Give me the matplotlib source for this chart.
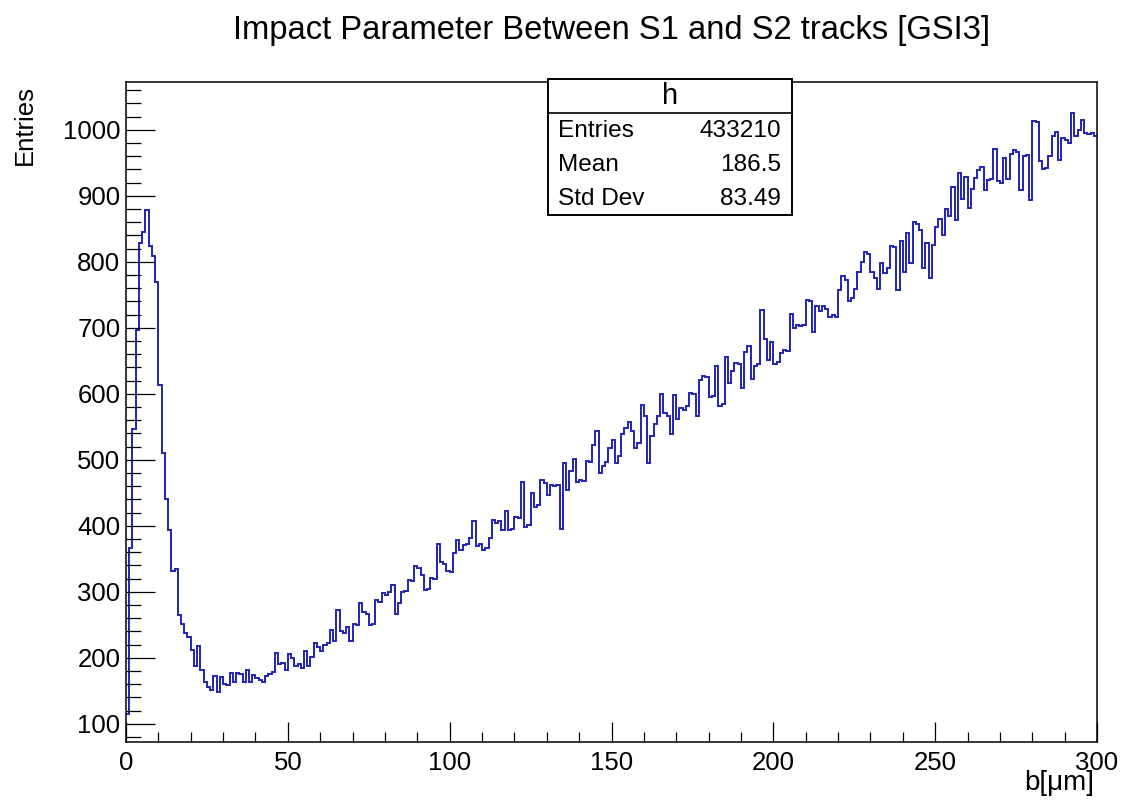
import numpy as np
import matplotlib
matplotlib.use("Agg")
import matplotlib.pyplot as plt
from matplotlib.patches import Rectangle
from matplotlib.lines import Line2D
from matplotlib.ticker import MultipleLocator

plt.rcParams['font.family'] = ['Liberation Sans', 'DejaVu Sans']

# Histogram: 300 bins of 1 um between 0 and 300 um
x_low, x_high, n_bins = 0.0, 300.0, 300

counts_000_049 = [115, 367, 547, 697, 829, 845, 879, 824, 809, 769,
                  614, 511, 440, 394, 331, 335, 265, 252, 238, 232,
                  212, 188, 218, 182, 163, 156, 152, 172, 149, 171,
                  160, 159, 177, 164, 177, 176, 164, 182, 163, 174,
                  170, 167, 164, 172, 175, 178, 208, 190, 192, 182]
counts_050_099 = [206, 200, 187, 190, 185, 211, 187, 202, 222, 217,
                  210, 220, 222, 242, 225, 272, 240, 238, 247, 225,
                  252, 250, 283, 270, 266, 250, 252, 288, 285, 298,
                  296, 300, 310, 266, 283, 300, 302, 318, 316, 339,
                  336, 326, 303, 305, 321, 319, 373, 345, 342, 331]
counts_100_149 = [330, 359, 379, 364, 371, 373, 381, 408, 370, 372,
                  364, 366, 381, 409, 405, 408, 394, 423, 394, 396,
                  414, 412, 466, 399, 402, 450, 429, 431, 469, 465,
                  447, 462, 460, 462, 396, 496, 455, 483, 502, 467,
                  470, 468, 499, 497, 523, 544, 480, 490, 497, 518]
counts_150_199 = [530, 496, 506, 539, 548, 557, 544, 518, 526, 583,
                  567, 496, 536, 555, 567, 600, 571, 566, 539, 598,
                  562, 578, 576, 582, 601, 600, 567, 621, 627, 625,
                  595, 597, 642, 582, 585, 656, 617, 635, 647, 645,
                  609, 664, 672, 622, 642, 645, 727, 683, 652, 678]
counts_200_249 = [646, 648, 662, 667, 665, 721, 700, 705, 703, 705,
                  742, 740, 693, 733, 725, 733, 728, 717, 719, 716,
                  758, 778, 773, 741, 745, 759, 785, 800, 815, 812,
                  785, 775, 759, 798, 783, 790, 824, 822, 758, 832,
                  784, 843, 798, 861, 858, 848, 790, 829, 775, 826]
counts_250_299 = [853, 865, 841, 880, 869, 914, 863, 935, 896, 928,
                  881, 911, 927, 939, 944, 909, 924, 926, 971, 922,
                  920, 957, 925, 964, 969, 967, 909, 960, 962, 894,
                  1013, 1012, 953, 940, 942, 960, 990, 997, 955, 987,
                  985, 980, 1026, 990, 1000, 1015, 995, 993, 996, 990]

stat_labels = ["Entries", "Mean", "Std Dev"]
stat_values = ["433210", "186.5", "83.49"]
hist_name = "h"
title = "Impact Parameter Between S1 and S2 tracks [GSI3]"

counts = np.array(counts_000_049 + counts_050_099 + counts_100_149 +
                  counts_150_199 + counts_200_249 + counts_250_299, dtype=float)
edges = np.linspace(x_low, x_high, n_bins + 1)

W, H = 1122, 805
fig = plt.figure(figsize=(W / 100, H / 100), dpi=100)
fig.patch.set_facecolor("white")

ax_l, ax_r, ax_b, ax_t = 126, 1097, 741.7, 81.7
ax = fig.add_axes([ax_l / W, 1 - ax_b / H, (ax_r - ax_l) / W, (ax_b - ax_t) / H])

ax.stairs(counts, edges, baseline=None, color="#2323b4", linewidth=1.4)

ax.set_xlim(x_low, x_high)
ax.set_ylim(73, 1073)

ax.xaxis.set_major_locator(MultipleLocator(50))
ax.xaxis.set_minor_locator(MultipleLocator(10))
ax.yaxis.set_major_locator(MultipleLocator(100))
ax.yaxis.set_minor_locator(MultipleLocator(20))

ax.tick_params(axis="both", which="both", direction="in", top=False, right=False,
               width=0.9, color="black", labelsize=18.5)
ax.tick_params(axis="y", which="major", length=20.9, pad=4)
ax.tick_params(axis="y", which="minor", length=10.5)
ax.tick_params(axis="x", which="major", length=14.3, pad=7)
ax.tick_params(axis="x", which="minor", length=7.1)
for sp in ax.spines.values():
    sp.set_linewidth(1.1)
    sp.set_color("black")

# titles
fig.text(612 / W, 1 - 30 / H, title, ha="center", va="center", fontsize=23.6)
fig.text(1094 / W, 1 - 783 / H, "b[\u03bcm]", ha="right", va="center", fontsize=20)
fig.text(25 / W, 1 - 85 / H, "Entries", ha="center", va="top", rotation=90, fontsize=18.5)

# statistics box
bx0, bx1, by0, by1 = 548, 792, 79, 215
sep = 113
box = Rectangle((bx0 / W, 1 - by1 / H), (bx1 - bx0) / W, (by1 - by0) / H,
                transform=fig.transFigure, facecolor="white", edgecolor="black",
                linewidth=1.4, zorder=5)
fig.add_artist(box)
fig.add_artist(Line2D([bx0 / W, bx1 / W], [1 - sep / H, 1 - sep / H],
                      transform=fig.transFigure, color="black", linewidth=1.2, zorder=6))
fig.text((bx0 + bx1) / 2 / W, 1 - 96 / H, hist_name, ha="center", va="center",
         fontsize=21, zorder=7)
row_y = [131, 165, 199]
for lab, val, yy in zip(stat_labels, stat_values, row_y):
    fig.text(558 / W, 1 - yy / H, lab, ha="left", va="center", fontsize=17.6, zorder=7)
    fig.text(781 / W, 1 - yy / H, val, ha="right", va="center", fontsize=17.6, zorder=7)

fig.savefig("out.png", dpi=100, facecolor="white")
